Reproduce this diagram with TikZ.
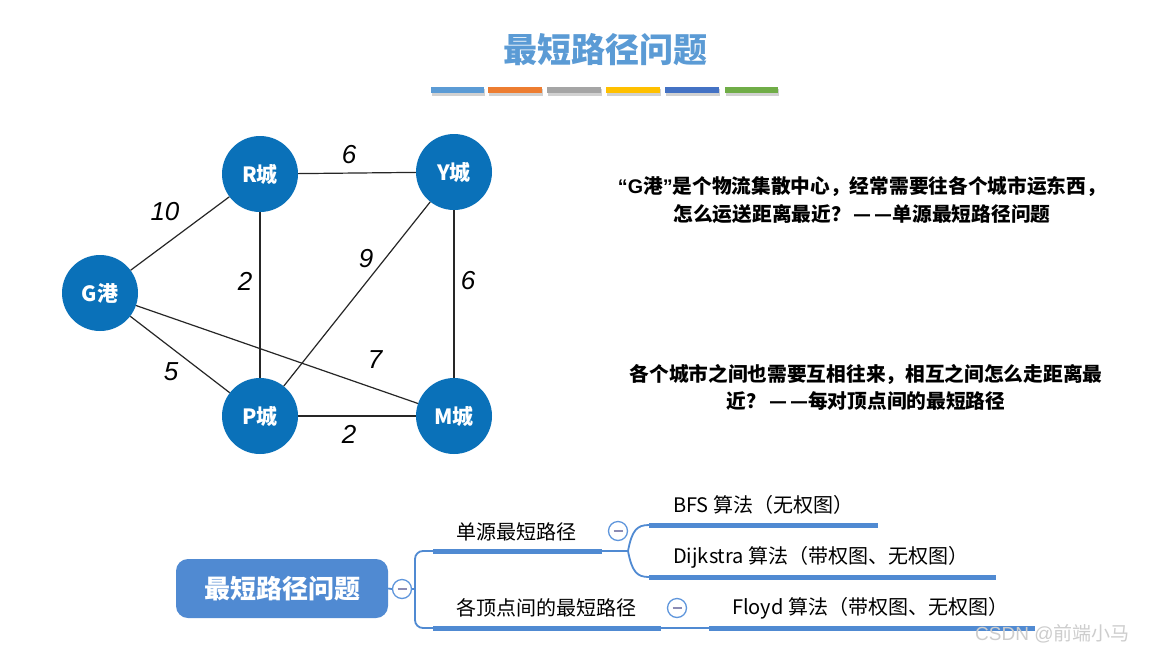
\documentclass[tikz,border=0pt]{standalone}
\usepackage{fontspec}
\setmainfont{Liberation Sans}
\newfontfamily\cjk{Noto Sans CJK SC}
\definecolor{nodeblue}{RGB}{10,113,185}
\definecolor{titleblue}{RGB}{91,155,213}
\definecolor{mmblue}{RGB}{80,138,210}
\definecolor{foldblue}{RGB}{95,150,220}
\definecolor{foldminus}{RGB}{140,140,180}
\definecolor{barA}{RGB}{91,155,213}
\definecolor{barB}{RGB}{237,125,49}
\definecolor{barC}{RGB}{165,165,165}
\definecolor{barD}{RGB}{255,192,0}
\definecolor{barE}{RGB}{68,114,196}
\definecolor{barF}{RGB}{112,173,71}
\definecolor{wmark}{RGB}{205,205,205}
\newcommand{\ddash}{\hspace{3pt}—\hspace{3pt}—}
\begin{document}
\begin{tikzpicture}[x=1pt,y=-1pt,
  city/.style={circle, fill=nodeblue, minimum size=76pt, inner sep=0pt, text=white,
    font=\cjk\bfseries\fontsize{21}{21}\selectfont},
  wt/.style={font=\itshape\fontsize{26}{26}\selectfont, inner sep=0pt},
  gedge/.style={draw=black!85, line width=1.2pt},
  mmbar/.style={draw=mmblue, line width=5pt},
  mmline/.style={draw=mmblue, line width=1.8pt},
  fold/.style={circle, draw=foldblue, line width=1.3pt, fill=white, minimum size=19pt, inner sep=0pt},
  mmtext/.style={anchor=west, inner sep=0pt, font=\cjk\fontsize{20}{20}\selectfont},
  desc/.style={align=center, inner sep=0pt, font=\cjk\bfseries\fontsize{19.7}{27.5}\selectfont}
]
\useasboundingbox (0,0) rectangle (1154,654);
\fill[white] (0,0) rectangle (1154,654);

% title
\node[inner sep=0pt, text=titleblue, font=\cjk\bfseries\fontsize{34}{34}\selectfont] (title) at (605,50) {最短路径问题};
\foreach \xa/\xb/\c in {431/484/barA, 488/542/barB, 547/601/barC, 606/660/barD, 665/719/barE, 725/778/barF}{
  \fill[black!18] (\xa+1,89) rectangle (\xb+1,95.5);
  \fill[\c] (\xa,87) rectangle (\xb,93);
}

% graph
\node[city] (G) at (100,293) {G港};
\node[city] (R) at (260,174) {R城};
\node[city] (Y) at (454,172) {Y城};
\node[city] (P) at (260,416) {P城};
\node[city] (M) at (454,416) {M城};
\draw[gedge] (G) -- (R);
\draw[gedge] (R) -- (Y);
\draw[gedge] (R) -- (P);
\draw[gedge] (Y) -- (P);
\draw[gedge] (Y) -- (M);
\draw[gedge] (G) -- (P);
\draw[gedge] (G) -- (M);
\draw[gedge] (P) -- (M);
\node[wt] (wRY) at (349,155) {6};
\node[wt] (wGR) at (165,212) {10};
\node[wt] (wRP) at (245,281) {2};
\node[wt] (wYP) at (366,259) {9};
\node[wt] (wYM) at (468,281) {6};
\node[wt] (wGP) at (171,372) {5};
\node[wt] (wGM) at (375,360) {7};
\node[wt] (wPM) at (349,434) {2};

% descriptions
\node[desc] (d1) at (862,200) {{\rmfamily\bfseries “G}港{\rmfamily\bfseries ”}是个物流集散中心，经常需要往各个城市运东西，\\怎么运送距离最近？\ddash 单源最短路径问题};
\node[desc] (d2) at (866,387.5) {各个城市之间也需要互相往来，相互之间怎么走距离最\\近？\ddash 每对顶点间的最短路径};

% mind map
\node[rectangle, rounded corners=12pt, fill=mmblue, minimum width=212pt, minimum height=59pt,
  text=white, font=\cjk\bfseries\fontsize{26}{26}\selectfont] (root) at (282,588.5) {最短路径问题};
\node[fold] (f0) at (402,589) {};
\node[fold] (f1) at (618,531) {};
\node[fold] (f2) at (677,608) {};
\foreach \f in {f0,f1,f2}{
  \draw[foldminus, line width=1.4pt] ([xshift=-4.5pt]\f.center) -- ([xshift=4.5pt]\f.center);
}
\coordinate (spine) at (415,589);
\coordinate (b1s) at (433,551);
\coordinate (b1e) at (602,551);
\coordinate (fork) at (628,551);
\coordinate (c1s) at (649,525);
\coordinate (c1e) at (878,525);
\coordinate (c2s) at (649,577);
\coordinate (c2e) at (996,577);
\coordinate (b2s) at (433,628);
\coordinate (b2e) at (661,628);
\coordinate (c3s) at (709,628);
\coordinate (c3e) at (1035,628);

\draw[mmline] (root.east) -- (f0.west);
\draw[mmline] (f0.east) -- (spine);
\draw[mmline, rounded corners=8pt] (b1s) -- (415,551) -- (415,628) -- (b2s);
\draw[mmbar] (b1s) -- (b1e);
\draw[mmline] (b1e) -- (fork);
\draw[mmline] (fork) .. controls (632,530) and (637,525) .. (c1s);
\draw[mmline] (fork) .. controls (632,572) and (637,577) .. (c2s);
\draw[mmbar] (c1s) -- (c1e);
\draw[mmbar] (c2s) -- (c2e);
\draw[mmbar] (b2s) -- (b2e);
\draw[mmline] (b2e) -- (c3s);
\draw[mmbar] (c3s) -- (c3e);

\node[mmtext] (t1) at (456,532) {单源最短路径};
\node[mmtext] (t2) at (456,608) {各顶点间的最短路径};
\node[mmtext] (t3) at (673,505) {BFS 算法（无权图）};
\node[mmtext] (t4) at (673,557) {Dijkstra 算法（带权图、无权图）};
\node[mmtext] (t5) at (732,608) {Floyd 算法（带权图、无权图）};

% watermark
\node[anchor=west, inner sep=0pt, text=wmark, font=\fontsize{19}{19}\selectfont] (wm) at (975,634) {CSDN @{\cjk 前端小马}};
\end{tikzpicture}
\end{document}
